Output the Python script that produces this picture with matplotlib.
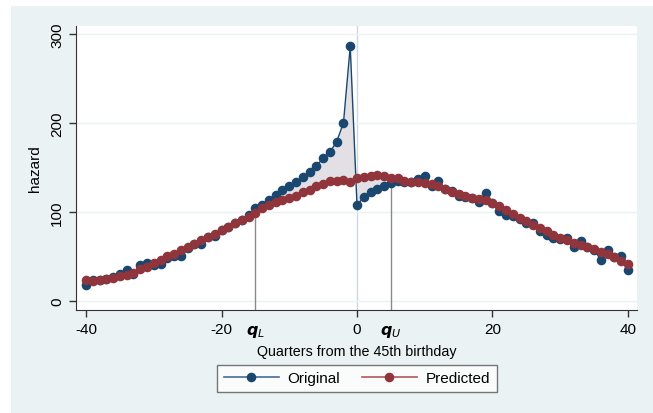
import matplotlib.pyplot as plt
import numpy as np
from matplotlib.patches import Rectangle
from matplotlib.lines import Line2D

plt.rcParams['font.family'] = 'sans-serif'
plt.rcParams['font.sans-serif'] = ['Liberation Sans', 'DejaVu Sans']
plt.rcParams['axes.unicode_minus'] = False

quarters = list(range(-40, 41))
original = [17.4, 22.7, 22.7, 24, 26.5, 29.5, 34, 30, 40, 42,
            40, 41.6, 47.7, 50.7, 50.7, 59, 64, 64, 72, 73,
            79.5, 82.5, 87, 91, 96, 104, 108, 113.5, 119, 124,
            129, 134, 139, 145, 152, 160, 167, 179, 200, 286,
            107.5, 116.5, 122, 126, 129, 132.4, 134.7, 134, 133, 137,
            140, 129, 134.7, 126, 123, 118, 116.5, 115, 110.5, 121,
            109.7, 100.6, 96.9, 95.3, 91.6, 87, 87, 78.7, 73.4, 71,
            68.9, 71, 60.5, 66.6, 60.5, 57.5, 45.4, 57.5, 49, 50,
            34.8]
predicted = [23.8, 22, 23.5, 24, 25.7, 28, 28.7, 31.4, 35.6, 37.8,
             42.4, 46, 50, 53, 56.7, 60.5, 63.6, 68, 72, 75,
             80, 83, 87, 91, 94.6, 98.4, 103.7, 107.5, 110.5, 113.5,
             115.8, 118, 122, 125, 128.6, 131.7, 134.7, 134.7, 135.5, 134,
             137.7, 139, 140.7, 141.5, 140, 138.5, 137.7, 134.7, 133, 133,
             132.4, 131, 128.6, 125.6, 122.6, 119.6, 117.3, 115.8, 114.3, 112.7,
             109.7, 106, 102, 97.6, 93, 90, 85.5, 81.7, 78, 74,
             70.4, 68, 65, 62.8, 60.5, 58.3, 55.2, 52.2, 49, 44.6,
             40.8]
q_lower = -15
q_upper = 5
x_ticks = [-40, -20, 0, 20, 40]
y_ticks = [0, 100, 200, 300]

bg = '#eaf2f3'
navy = '#1a476f'
maroon = '#90353b'

fig = plt.figure(figsize=(6.53, 4.14), dpi=100)
fig.patch.set_facecolor('white')
fig.patches.append(Rectangle((11 / 653, 0), 1, 1 - 7 / 414, transform=fig.transFigure,
                             facecolor=bg, edgecolor='none', zorder=-10))

ax = fig.add_axes([76 / 653, 1 - 311 / 414, (637 - 76) / 653, (311 - 27) / 414])
ax.set_facecolor('white')

x = np.array(quarters)
orig = np.array(original)
pred = np.array(predicted)

ax.fill_between(x, orig, pred, where=(x >= q_lower) & (x <= q_upper),
                color='#e2e0e5', zorder=1, linewidth=0)
ax.axvline(0, color='#cdd7df', linewidth=1, zorder=0.5)
for q in (q_lower, q_upper):
    v = orig[quarters.index(q)]
    ax.plot([q, q], [-20, v], color='#8a8a8a', linewidth=1, zorder=1.5)

ax.plot(x, orig, color=navy, marker='o', markersize=5.9, linewidth=1, zorder=3)
ax.plot(x, pred, color=maroon, marker='o', markersize=5.9, linewidth=1, zorder=4)

ax.set_xlim(-41.48, 41.33)
ax.set_ylim(-10.5, 309)
ax.set_xticks(x_ticks)
ax.set_yticks(y_ticks)
ax.set_yticklabels([str(t) for t in y_ticks], rotation=90, va='center')
ax.tick_params(axis='both', labelsize=11, color='#333333', length=5, width=1)
ax.grid(axis='y', color=bg, linewidth=1)
ax.set_axisbelow(True)
for s in ('top', 'right'):
    ax.spines[s].set_visible(False)
for s in ('left', 'bottom'):
    ax.spines[s].set_color('#333333')

lab_trans = ax.get_xaxis_transform()
ax.text(q_lower, -0.074, r'$\mathbfit{q}_{\mathit{L}}$', transform=lab_trans,
        ha='center', va='center', fontsize=11.5)
ax.text(q_upper, -0.074, r'$\mathbfit{q}_{\mathit{U}}$', transform=lab_trans,
        ha='center', va='center', fontsize=11.5)

ax.set_xlabel('Quarters from the 45th birthday', fontsize=10.3, labelpad=6)
ax.set_ylabel('hazard', fontsize=11, labelpad=6)

handles = [Line2D([], [], color='#4a6a96', marker='o', markersize=5.9,
                  markerfacecolor=navy, markeredgecolor=navy, linewidth=1.2),
           Line2D([], [], color='#b0585e', marker='o', markersize=5.9,
                  markerfacecolor=maroon, markeredgecolor=maroon, linewidth=1.2)]
leg = fig.legend(handles, ['Original', 'Predicted'], loc='center',
                 bbox_to_anchor=(357 / 653, 1 - 379.5 / 414), ncol=2,
                 fontsize=11, frameon=True, fancybox=False, handlelength=3.6,
                 columnspacing=1.4, borderpad=0.4, handletextpad=0.6)
leg.get_frame().set_edgecolor('#555555')
leg.get_frame().set_linewidth(1)

fig.savefig('out.png', dpi=100)
